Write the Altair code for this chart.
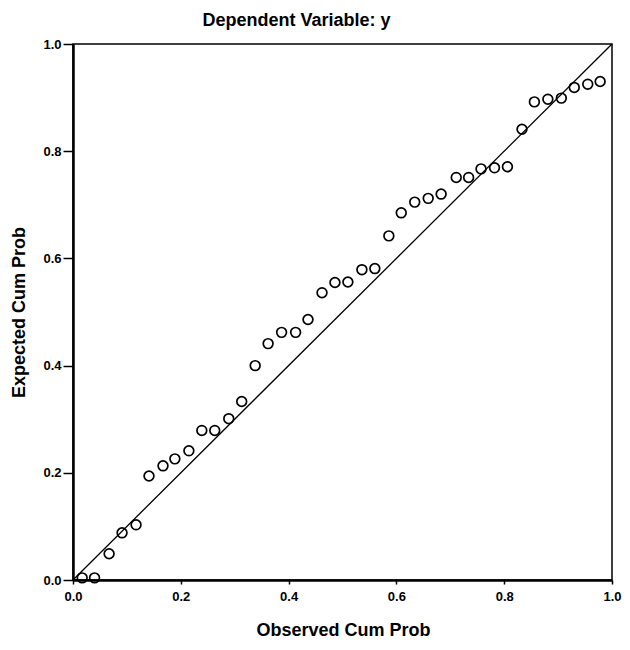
import altair as alt
import pandas as pd

# Observed vs expected cumulative probabilities
observed = [0.017, 0.040, 0.067, 0.091, 0.117, 0.141, 0.167, 0.189, 0.215, 0.239,
            0.263, 0.289, 0.313, 0.338, 0.362, 0.387, 0.413, 0.436, 0.462, 0.486,
            0.510, 0.536, 0.560, 0.586, 0.609, 0.634, 0.659, 0.683, 0.711, 0.734,
            0.757, 0.782, 0.806, 0.833, 0.856, 0.881, 0.906, 0.930, 0.955, 0.978]
expected = [0.004, 0.004, 0.049, 0.088, 0.103, 0.194, 0.213, 0.226, 0.241, 0.279,
            0.279, 0.301, 0.333, 0.400, 0.441, 0.462, 0.462, 0.486, 0.536, 0.555,
            0.556, 0.579, 0.581, 0.642, 0.685, 0.705, 0.712, 0.720, 0.751, 0.751,
            0.767, 0.769, 0.771, 0.841, 0.892, 0.897, 0.899, 0.919, 0.925, 0.930]
ref_line = [0.0, 1.0]
tick_values = [0.0, 0.2, 0.4, 0.6, 0.8, 1.0]

pts = pd.DataFrame({"obs": observed, "exp": expected})
diag = pd.DataFrame({"obs": ref_line, "exp": ref_line})

FONT = "Liberation Sans"

xscale = alt.Scale(domain=[0, 1], nice=False, zero=False)
yscale = alt.Scale(domain=[0, 1], nice=False, zero=False)

xaxis = alt.Axis(title="Observed Cum Prob", values=tick_values, format=".1f",
                 grid=False, domainColor="black", domainWidth=2.5,
                 tickColor="black", tickSize=4, tickWidth=1.5,
                 labelFont=FONT, labelFontSize=13, labelFontWeight="bold",
                 labelColor="black", labelPadding=6, labelFlush=False,
                 titleFont=FONT, titleFontSize=18, titleFontWeight="bold",
                 titleColor="black", titleX=270, titleY=50,
                 titleBaseline="middle", titleAlign="center")
yaxis = alt.Axis(title="Expected Cum Prob", values=tick_values, format=".1f",
                 grid=False, domainColor="black", domainWidth=2.5,
                 tickColor="black", tickSize=10, tickWidth=1.5,
                 labelFont=FONT, labelFontSize=13, labelFontWeight="bold",
                 labelColor="black", labelPadding=2, labelFlush=False,
                 titleFont=FONT, titleFontSize=18, titleFontWeight="bold",
                 titleColor="black", titleAngle=-90, titleX=-54, titleY=268,
                 titleBaseline="middle", titleAlign="center")

line = alt.Chart(diag).mark_line(color="black", strokeWidth=1.3).encode(
    x=alt.X("obs:Q", scale=xscale, axis=xaxis),
    y=alt.Y("exp:Q", scale=yscale, axis=yaxis),
)

points = alt.Chart(pts).mark_point(
    shape="circle", filled=False, color="black", size=95, strokeWidth=1.7, opacity=1
).encode(
    x=alt.X("obs:Q", scale=xscale),
    y=alt.Y("exp:Q", scale=yscale),
)

chart = alt.layer(line, points).properties(
    width=539,
    height=536,
    background="white",
    autosize=alt.AutoSizeParams(type="none"),
    padding={"left": 65, "top": 36, "right": 10, "bottom": 60},
    title=alt.TitleParams(
        "Dependent Variable: y", font=FONT, fontSize=18, fontWeight="bold",
        color="black", anchor="middle", dx=-46, offset=8, frame="group"
    ),
).configure_view(
    stroke="black", strokeWidth=1.5
)

chart.save("out.html", embed_options={"renderer": "svg", "actions": False})
